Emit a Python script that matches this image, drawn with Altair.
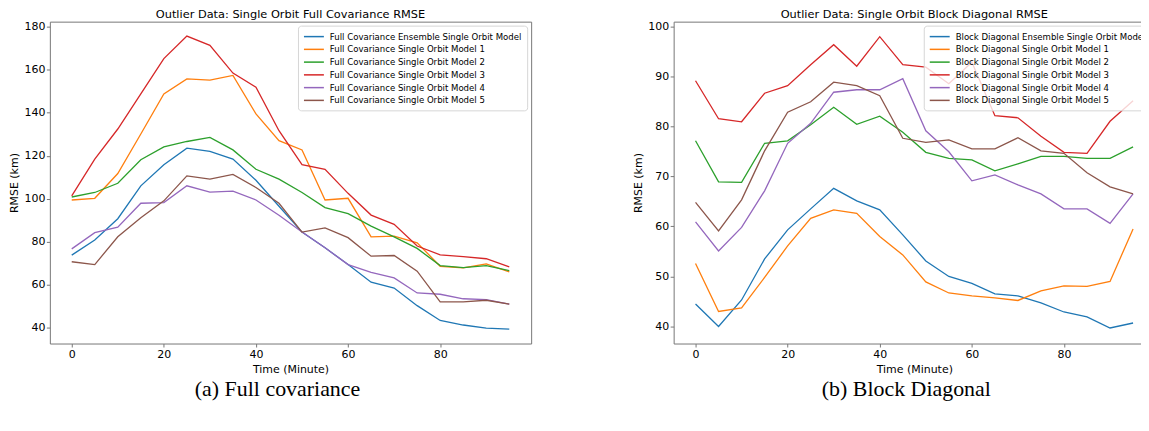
import altair as alt
import pandas as pd

times = list(range(0, 100, 5))

full_names = [
    "Full Covariance Ensemble Single Orbit Model",
    "Full Covariance Single Orbit Model 1",
    "Full Covariance Single Orbit Model 2",
    "Full Covariance Single Orbit Model 3",
    "Full Covariance Single Orbit Model 4",
    "Full Covariance Single Orbit Model 5",
]
full_ens = [73.8, 80.8, 90.7, 106.0, 115.8, 123.5, 122.0, 118.4, 108.6, 96.5, 84.5, 77.2, 69.4, 61.2, 58.5, 50.3, 43.4, 41.3, 39.9, 39.4]
full_m1 = [99.4, 100.2, 111.7, 130.1, 148.7, 155.7, 155.1, 157.3, 139.4, 127.0, 122.7, 99.4, 100.2, 82.3, 82.6, 79.5, 68.6, 67.9, 69.7, 66.0]
full_m2 = [100.8, 102.9, 107.2, 118.1, 124.1, 126.6, 128.5, 122.7, 113.7, 109.1, 102.9, 95.9, 93.1, 87.3, 82.3, 76.9, 68.9, 68.0, 68.9, 66.6]
full_m3 = [101.3, 118.4, 132.4, 148.7, 165.1, 175.6, 171.3, 158.4, 151.8, 131.6, 115.8, 113.7, 102.5, 92.4, 88.1, 78.0, 73.9, 73.1, 72.1, 68.3]
full_m4 = [76.7, 84.2, 86.8, 97.9, 98.2, 106.0, 103.1, 103.5, 99.4, 92.3, 84.5, 77.2, 69.4, 65.8, 63.2, 56.2, 55.6, 53.5, 53.1, 51.0]
full_m5 = [70.7, 69.4, 82.3, 91.2, 99.0, 110.6, 109.1, 111.3, 105.2, 97.9, 84.5, 86.4, 81.9, 73.3, 73.6, 66.3, 52.1, 52.1, 52.8, 51.0]

blk_names = [
    "Block Diagonal Ensemble Single Orbit Model",
    "Block Diagonal Single Orbit Model 1",
    "Block Diagonal Single Orbit Model 2",
    "Block Diagonal Single Orbit Model 3",
    "Block Diagonal Single Orbit Model 4",
    "Block Diagonal Single Orbit Model 5",
]
blk_ens = [44.5, 40.0, 45.3, 53.5, 59.3, 63.5, 67.6, 65.1, 63.3, 58.3, 53.1, 50.0, 48.6, 46.5, 46.1, 44.7, 42.9, 41.9, 39.7, 40.7]
blk_m1 = [52.6, 43.0, 43.7, 49.8, 56.1, 61.6, 63.3, 62.6, 58.0, 54.3, 48.9, 46.7, 46.1, 45.7, 45.2, 47.1, 48.1, 48.0, 49.0, 59.5]
blk_m2 = [77.1, 68.9, 68.8, 76.6, 77.1, 80.3, 83.8, 80.4, 82.0, 78.8, 74.8, 73.6, 73.3, 71.1, 72.5, 74.0, 74.0, 73.6, 73.6, 75.9]
blk_m3 = [89.1, 81.5, 80.9, 86.6, 88.1, 92.3, 96.3, 92.0, 97.9, 92.3, 91.8, 88.5, 92.8, 82.1, 81.7, 78.0, 74.8, 74.6, 81.0, 85.1]
blk_m4 = [60.9, 55.1, 59.8, 67.1, 76.6, 80.6, 86.8, 87.3, 87.3, 89.5, 79.1, 74.9, 69.1, 70.3, 68.3, 66.5, 63.5, 63.5, 60.6, 66.5]
blk_m5 = [64.8, 59.1, 65.3, 75.1, 82.8, 84.9, 88.8, 88.1, 86.1, 77.6, 76.8, 77.3, 75.5, 75.5, 77.7, 75.1, 74.6, 70.7, 67.9, 66.5]

colors = ["#1f77b4", "#ff7f0e", "#2ca02c", "#d62728", "#9467bd", "#8c564b"]

full_title = "Outlier Data: Single Orbit Full Covariance RMSE"
blk_title = "Outlier Data: Single Orbit Block Diagonal RMSE"
captions = ["(a) Full covariance", "(b) Block Diagonal"]
x_ticks = [0, 20, 40, 60, 80]
full_yticks = [40, 60, 80, 100, 120, 140, 160, 180]
blk_yticks = [40, 50, 60, 70, 80, 90, 100]


def long_df(names, series):
    rows = []
    for n, s in zip(names, series):
        for t, v in zip(times, s):
            rows.append({"t": t, "rmse": v, "series": n})
    return pd.DataFrame(rows)


W, H = 483, 323


def panel(names, series, title, ydom, yticks, caption, cap_shift):
    df = long_df(names, series)
    lines = alt.Chart(df).mark_line(strokeWidth=1.3).encode(
        x=alt.X("t:Q", scale=alt.Scale(domain=[-4.75, 99.75], nice=False, zero=False),
                axis=alt.Axis(values=x_ticks, title="Time (Minute)", grid=False)),
        y=alt.Y("rmse:Q", scale=alt.Scale(domain=ydom, nice=False, zero=False),
                axis=alt.Axis(values=yticks, title="RMSE (km)", grid=False)),
        color=alt.Color("series:N", scale=alt.Scale(domain=names, range=colors),
                        legend=alt.Legend(title=None, orient="top-right", offset=4,
                                          symbolType="M-1,0H3", symbolSize=100,
                                          symbolStrokeWidth=1.5, labelFontSize=8.6,
                                          labelFont="DejaVu Sans", labelColor="black",
                                          labelOffset=15, rowPadding=1.8, padding=5,
                                          strokeColor="#d6d6d6", cornerRadius=3,
                                          fillColor="rgba(255,255,255,0.8)",
                                          labelLimit=400)),
    )
    cap = alt.Chart(pd.DataFrame({"c": [caption]})).mark_text(
        font="Liberation Serif", fontSize=22, color="black", align="center", baseline="middle"
    ).encode(text="c:N", x=alt.value(W / 2 + cap_shift), y=alt.value(369))
    return alt.layer(lines, cap).properties(
        width=W, height=H,
        title=alt.TitleParams(title, fontSize=11.4, font="DejaVu Sans", fontWeight="normal",
                              color="black", offset=0),
    )


left = panel(full_names, [full_ens, full_m1, full_m2, full_m3, full_m4, full_m5],
             full_title, [32.7, 182.3], full_yticks, captions[0], -13)
right = panel(blk_names, [blk_ens, blk_m1, blk_m2, blk_m3, blk_m4, blk_m5],
              blk_title, [36.6, 100.9], blk_yticks, captions[1], -8)

chart = alt.hconcat(left, right, spacing=100).resolve_scale(color="independent").configure_view(
    stroke="#777", strokeWidth=1
).configure_axis(
    domain=False, tickColor="#777", tickSize=3.5, tickWidth=1,
    labelFont="DejaVu Sans", labelFontSize=11, labelColor="black", labelPadding=1.5,
    titleFont="DejaVu Sans", titleFontSize=11, titleFontWeight="normal", titleColor="black",
    titlePadding=4,
).properties(padding={"left": 0, "top": -1, "right": -15, "bottom": 5})

chart.save("out.html", embed_options={"renderer": "svg", "actions": False})
